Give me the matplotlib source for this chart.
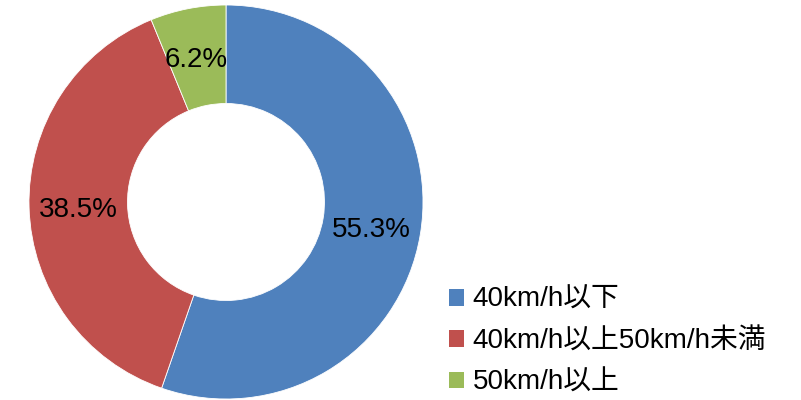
import matplotlib
matplotlib.use("Agg")
import matplotlib.pyplot as plt
from matplotlib.patches import Patch

plt.rcParams['font.family'] = ['Liberation Sans', 'Noto Sans CJK JP']

labels = ["40km/h以下", "40km/h以上50km/h未満", "50km/h以上"]
values = [55.3, 38.5, 6.2]
colors = ["#4F81BD", "#C0504D", "#9BBB59"]

fig = plt.figure(figsize=(8.01, 4.0), dpi=100)
ax = fig.add_axes([29 / 801, 1 / 400, 394 / 801, 394 / 400])

wedges, texts, autotexts = ax.pie(
    values, colors=colors, startangle=90, counterclock=False,
    autopct="%.1f%%", pctdistance=0.75, radius=1.0,
    wedgeprops=dict(width=0.5, edgecolor="white", linewidth=0.6),
    textprops=dict(fontsize=20, color="black"))
# Excel nudged the small slice label to the left
autotexts[2].set_position((-0.15, 0.72))
autotexts[0].set_y(autotexts[0].get_position()[1] - 0.02)
autotexts[1].set_y(autotexts[1].get_position()[1] - 0.02)
ax.set_xlim(-1, 1)
ax.set_ylim(-1, 1)
ax.set_aspect("equal")

handles = [Patch(facecolor=c, edgecolor="none") for c in colors]
fig.legend(handles, labels, loc="upper left", bbox_to_anchor=(438 / 801, 1 - 276 / 400),
           frameon=False, fontsize=20, handlelength=0.55, handleheight=0.55,
           handletextpad=0.3, labelspacing=0.55, borderaxespad=0)

fig.savefig("out.png", dpi=100)
